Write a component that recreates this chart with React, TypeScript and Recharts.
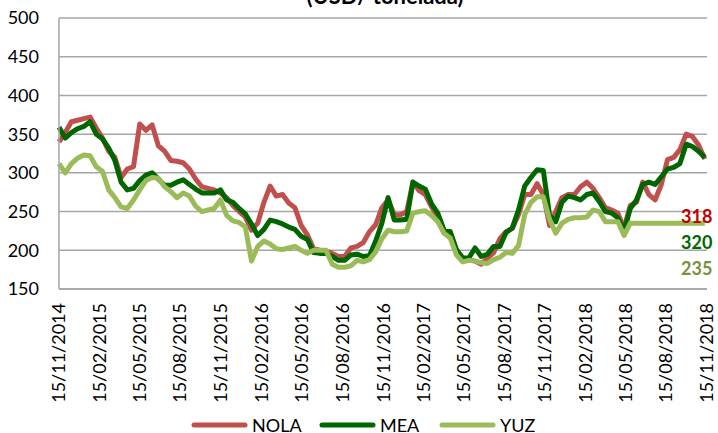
import React from "react";
import { LineChart, Line, XAxis, YAxis, CartesianGrid } from "recharts";

const tickLabels = [
  "15/11/2014", "15/02/2015", "15/05/2015", "15/08/2015", "15/11/2015",
  "15/02/2016", "15/05/2016", "15/08/2016", "15/11/2016", "15/02/2017",
  "15/05/2017", "15/08/2017", "15/11/2017", "15/02/2018", "15/05/2018",
  "15/08/2018", "15/11/2018",
];
const yTicks = [150, 200, 250, 300, 350, 400, 450, 500];

const NOLA = [
  340, 352, 366, 368, 370, 372, 358, 345, 328, 320,
  294, 305, 308, 363, 355, 362, 335, 328, 316, 315,
  313, 305, 292, 282, 280, 278, 274, 268, 258, 250,
  243, 226, 235, 262, 283, 270, 272, 261, 255, 232,
  220, 202, 200, 199, 196, 192, 192, 203, 205, 210,
  224, 233, 255, 265, 246, 246, 250, 288, 277, 272,
  256, 243, 226, 224, 200, 190, 188, 186, 182, 190,
  197, 215, 224, 228, 246, 272, 272, 286, 272, 232,
  250, 268, 272, 272, 282, 288, 280, 268, 255, 252,
  248, 228, 258, 262, 288, 272, 265, 285, 317, 320,
  330, 350, 347, 336, 318,
];
const MEA = [
  359, 345, 352, 357, 360, 366, 350, 344, 332, 316,
  288, 278, 280, 290, 297, 300, 292, 284, 284, 288,
  291, 285, 279, 274, 274, 274, 278, 265, 262, 254,
  247, 234, 219, 227, 239, 237, 234, 230, 227, 218,
  214, 197, 196, 196, 192, 187, 187, 194, 195, 192,
  193, 212, 235, 268, 239, 239, 240, 288, 283, 279,
  260, 248, 226, 224, 201, 190, 190, 203, 192, 195,
  205, 205, 223, 229, 252, 283, 294, 304, 303, 245,
  237, 262, 270, 268, 265, 272, 274, 263, 250, 248,
  242, 225, 254, 265, 285, 288, 285, 295, 305, 307,
  312, 337, 334, 328, 320,
];
const YUZ = [
  312, 300, 312, 319, 323, 322, 308, 302, 278, 268,
  256, 254, 265, 278, 290, 294, 293, 282, 276, 268,
  274, 270, 257, 250, 252, 254, 265, 245, 238, 236,
  230, 186, 205, 212, 208, 202, 201, 203, 205, 200,
  196, 200, 200, 200, 182, 178, 178, 180, 187, 185,
  188, 198, 215, 226, 224, 224, 225, 248, 250, 251,
  245, 237, 222, 216, 194, 185, 187, 186, 184, 183,
  188, 191, 197, 196, 206, 246, 262, 269, 269, 240,
  222, 235, 240, 242, 242, 243, 252, 250, 237, 237,
  237, 219, 235, 235, 235, 235, 235, 235, 235, 235,
  235, 235, 235, 235, 235,
];

const START = "15/11/2014";
const STEP_DAYS = 14;
const DAY = 86400000;

const parseDate = (s: string) => {
  const [d, m, y] = s.split("/").map(Number);
  return Date.UTC(y, m - 1, d);
};
const fmtDate = (t: number) => {
  const dt = new Date(t);
  const dd = String(dt.getUTCDate()).padStart(2, "0");
  const mm = String(dt.getUTCMonth() + 1).padStart(2, "0");
  return `${dd}/${mm}/${dt.getUTCFullYear()}`;
};

const t0 = parseDate(START);
const data = NOLA.map((v, i) => ({
  t: t0 + i * STEP_DAYS * DAY,
  NOLA: v,
  MEA: MEA[i],
  YUZ: YUZ[i],
}));
const xTicks = tickLabels.map(parseDate);

const series = [
  { key: "NOLA", color: "#C0504D", label: "#C00000", values: NOLA },
  { key: "MEA", color: "#006600", label: "#006600", values: MEA },
  { key: "YUZ", color: "#9BBB59", label: "#77933C", values: YUZ },
];

const FONT = "Lato, 'Open Sans', sans-serif";

const XTick = (props: any) => {
  const { x, y, payload } = props;
  return (
    <text
      x={x}
      y={y}
      transform={`rotate(-90 ${x} ${y})`}
      textAnchor="end"
      dy="0.35em"
      fontSize={18}
      fontFamily={FONT}
      fill="#000"
    >
      {fmtDate(payload.value)}
    </text>
  );
};

export default function App() {
  const legendX = [192, 320, 440];
  const endLabelY = [217, 243, 269];
  return (
    <div style={{ position: "absolute", left: 0, top: 0, width: 718, height: 433, background: "#fff" }}>
      <LineChart
        width={718}
        height={433}
        data={data}
        margin={{ top: 18, right: 11, bottom: 0, left: 0 }}
      >
        <CartesianGrid vertical={false} stroke="#A6A6A6" strokeWidth={1.5} />
        <XAxis
          dataKey="t"
          type="number"
          scale="linear"
          domain={[xTicks[0], xTicks[xTicks.length - 1]]}
          ticks={xTicks}
          interval={0}
          height={144}
          tickLine={false}
          tickSize={6}
          tickMargin={8}
          axisLine={{ stroke: "#A6A6A6", strokeWidth: 1.5 }}
          tick={<XTick />}
        />
        <YAxis
          type="number"
          domain={[150, 500]}
          ticks={yTicks}
          interval={0}
          width={59}
          tickLine={false}
          tickSize={6}
          tickMargin={14}
          axisLine={{ stroke: "#A6A6A6", strokeWidth: 1.5 }}
          tick={{ fontSize: 18, fontFamily: FONT, fill: "#000" }}
        />
        {series.map((s) => (
          <Line
            key={s.key}
            dataKey={s.key}
            type="linear"
            stroke={s.color}
            strokeWidth={5}
            strokeLinejoin="round"
            dot={false}
            activeDot={false}
            isAnimationActive={false}
          />
        ))}
      </LineChart>
      <svg
        width={718}
        height={433}
        style={{ position: "absolute", left: 0, top: 0, pointerEvents: "none" }}
      >
        <text x={385} y={4} textAnchor="middle" fontWeight={700} fontSize={22} fontFamily={FONT} fill="#000">
          (USD/ tonelada)
        </text>
        {series.map((s, i) => (
          <text
            key={s.key + "-end"}
            x={681}
            y={endLabelY[i]}
            dy="0.35em"
            fontWeight={700}
            fontSize={18}
            fontFamily={FONT}
            fill={s.label}
          >
            {s.values[s.values.length - 1]}
          </text>
        ))}
        {series.map((s, i) => (
          <g key={s.key + "-leg"}>
            <line
              x1={legendX[i] + 2}
              x2={legendX[i] + 53}
              y1={425}
              y2={425}
              stroke={s.color}
              strokeWidth={5}
              strokeLinecap="round"
            />
            <text x={legendX[i] + 60} y={426} dy="0.35em" fontSize={18} fontFamily={FONT} fill="#000">
              {s.key}
            </text>
          </g>
        ))}
      </svg>
    </div>
  );
}
